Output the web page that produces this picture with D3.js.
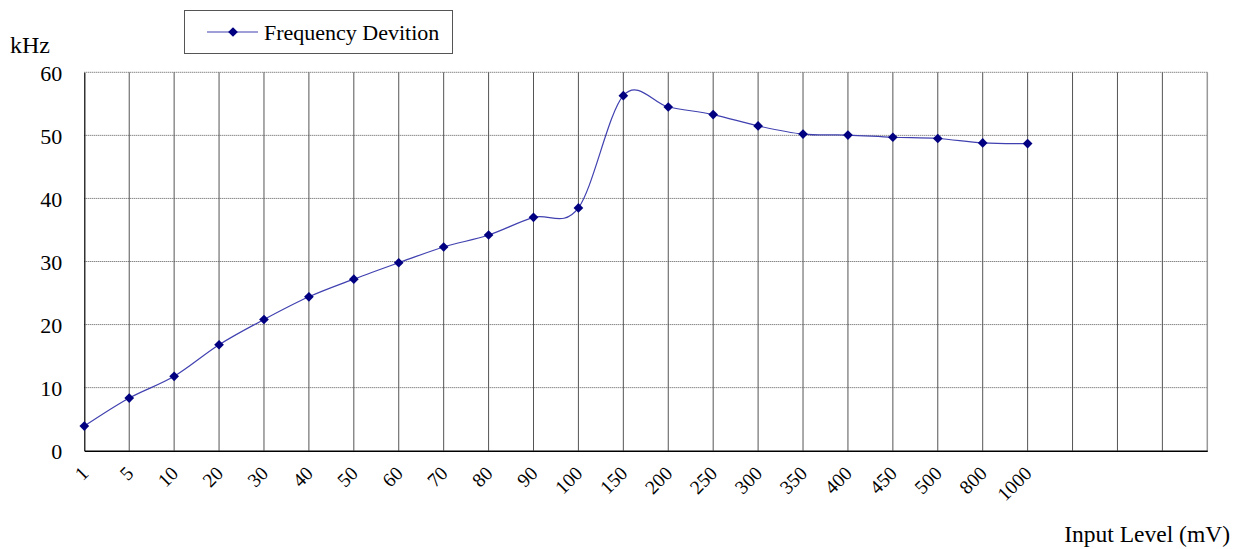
<!DOCTYPE html>
<html lang="en">
<head>
    <meta charset="UTF-8">
    <title>Frequency Devition</title>
    <script src="https://d3js.org/d3.v7.min.js"></script>
    <style>
        body { margin: 0; background: #fff; }
        svg text { font-family: "Liberation Serif", "Times New Roman", serif; fill: #000; }
    </style>
</head>
<body>
    <div id="chart-container"></div>
    <script>
        // Input level categories (mV); 4 empty slots follow on the axis
        const categories = ["1", "5", "10", "20", "30", "40", "50", "60", "70", "80", "90", "100",
            "150", "200", "250", "300", "350", "400", "450", "500", "800", "1000"];
        const emptySlots = 4;
        // Frequency deviation (kHz)
        const deviation = [3.9, 8.35, 11.8, 16.8, 20.8, 24.4, 27.2, 29.8, 32.3, 34.2, 37.0, 38.5,
            56.3, 54.5, 53.3, 51.5, 50.2, 50.05, 49.7, 49.5, 48.8, 48.7];
        const yTicks = [0, 10, 20, 30, 40, 50, 60];
        const seriesName = "Frequency Devition";

        const width = 1249, height = 549;
        const margin = { top: 72.3, right: 41.7, bottom: 98.3, left: 84.3 };
        const innerW = width - margin.left - margin.right;
        const innerH = height - margin.top - margin.bottom;

        const svg = d3.select("#chart-container")
            .append("svg")
            .attr("width", width)
            .attr("height", height);

        const g = svg.append("g")
            .attr("transform", `translate(${margin.left},${margin.top})`);

        const slots = d3.range(categories.length + emptySlots);
        const x = d3.scalePoint().domain(slots).range([0, innerW]);
        const y = d3.scaleLinear().domain([0, 60]).range([innerH, 0]);

        // horizontal dotted grid
        g.selectAll(".hgrid")
            .data(yTicks.filter(d => d > 0))
            .join("line")
            .attr("x1", 0).attr("x2", innerW)
            .attr("y1", d => y(d)).attr("y2", d => y(d))
            .attr("stroke", "#555")
            .attr("stroke-width", 1)
            .attr("stroke-dasharray", "1,1");

        // vertical grid
        g.selectAll(".vgrid")
            .data(slots.slice(1))
            .join("line")
            .attr("x1", d => x(d)).attr("x2", d => x(d))
            .attr("y1", 0).attr("y2", innerH)
            .attr("stroke", d => d === slots.length - 1 ? "#999" : "#555")
            .attr("stroke-width", d => d === slots.length - 1 ? 1.5 : 1);

        // y axis
        const yAxis = g.append("g")
            .call(d3.axisLeft(y).tickValues(yTicks).tickSize(0).tickPadding(22));
        yAxis.select(".domain").attr("stroke", "#000").attr("stroke-width", 1.2);
        yAxis.selectAll("text")
            .style("font-size", "22px")
            .attr("dy", "0.35em");

        // x axis
        const xAxis = g.append("g")
            .attr("transform", `translate(0,${innerH})`)
            .call(d3.axisBottom(x).tickSize(0).tickFormat(i => categories[i] || ""));
        xAxis.select(".domain").attr("stroke", "#000").attr("stroke-width", 1.5);
        xAxis.selectAll("text")
            .style("font-size", "19.5px")
            .attr("text-anchor", "end")
            .attr("transform", "translate(0,19) rotate(-45)")
            .attr("dy", "0.35em")
            .attr("y", 0)
            .attr("x", 0);

        // smoothed line
        const line = d3.line()
            .x((d, i) => x(i))
            .y(d => y(d))
            .curve(d3.curveCardinal.tension(0));

        g.append("path")
            .datum(deviation)
            .attr("d", line)
            .attr("fill", "none")
            .attr("stroke", "#4040b0")
            .attr("stroke-width", 1.2);

        const diamond = d3.symbol().type(d3.symbolDiamond2).size(60);
        g.selectAll(".pt")
            .data(deviation)
            .join("path")
            .attr("transform", (d, i) => `translate(${x(i)},${y(d)})`)
            .attr("d", diamond)
            .attr("fill", "#000080");

        // axis titles
        svg.append("text")
            .attr("x", 10).attr("y", 53)
            .style("font-size", "24px")
            .text("kHz");

        svg.append("text")
            .attr("x", 1230).attr("y", 542)
            .attr("text-anchor", "end")
            .style("font-size", "23.5px")
            .text("Input Level (mV)");

        // legend
        const legend = svg.append("g").attr("transform", "translate(184,10)");
        legend.append("rect")
            .attr("x", 0.5).attr("y", 0.5)
            .attr("width", 268).attr("height", 43)
            .attr("fill", "#fff")
            .attr("stroke", "#555");
        legend.append("line")
            .attr("x1", 23).attr("x2", 74)
            .attr("y1", 22).attr("y2", 22)
            .attr("stroke", "#4040b0").attr("stroke-width", 1.2);
        legend.append("path")
            .attr("transform", "translate(49,22)")
            .attr("d", diamond)
            .attr("fill", "#000080");
        legend.append("text")
            .attr("x", 80).attr("y", 22)
            .attr("dy", "0.35em")
            .style("font-size", "22px")
            .text(seriesName);
    </script>
</body>
</html>
